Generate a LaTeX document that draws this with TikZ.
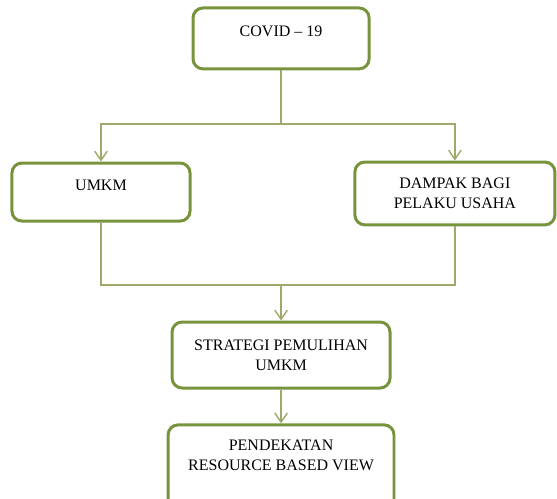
\documentclass[tikz,border=0pt]{standalone}
\usepackage{fontspec}
\setmainfont{Liberation Serif}
\usetikzlibrary{arrows.meta}
\definecolor{boxgreen}{RGB}{119,147,60}
\definecolor{linegreen}{RGB}{158,170,108}
\begin{document}
\begin{tikzpicture}[font=\fontsize{16pt}{20pt}\selectfont]
    % Node styles
    \tikzset{stage box/.style={draw=boxgreen, line width=1.05mm, rounded corners=3.5mm, align=center, inner sep=0pt},
             one line/.style={text height=11pt, text depth=14pt},
             link/.style={draw=linegreen, line width=0.5mm},
             flow/.style={link, -{Straight Barb[length=3.2mm, width=4.4mm]}}}

    % Page frame
    \useasboundingbox (0, 0) rectangle (19.58, -17.54);
    \clip (0, 0) rectangle (19.58, -17.54);

    % Top box
    \node[stage box, one line, minimum width=6.19cm, minimum height=2.14cm] (covid) at (9.88, -1.35) {COVID -- 19};

    % Second row
    \node[stage box, one line, minimum width=6.26cm, minimum height=2.04cm] (umkm) at (3.55, -6.75) {UMKM};
    \node[stage box, minimum width=7.03cm, minimum height=2.21cm] (dampak) at (15.99, -6.80) {DAMPAK BAGI\\PELAKU USAHA};

    % Lower boxes
    \node[stage box, minimum width=7.66cm, minimum height=2.32cm] (strategi) at (9.88, -12.48) {STRATEGI PEMULIHAN\\UMKM};
    \node[stage box, text depth=24pt, minimum width=7.94cm, minimum height=2.99cm] (pendekatan) at (9.88, -16.43) {PENDEKATAN\\RESOURCE BASED VIEW};

    % Branch and join points
    \coordinate (split) at (9.88, -4.36);
    \coordinate (join) at (9.88, -10.02);

    % Connectors
    \draw[flow] (covid.south) -- (split) -| (umkm.north);
    \draw[flow] (split) -| (dampak.north);
    \draw[link] (umkm.south) |- (join) -| (dampak.south);
    \draw[flow] (join) -- (strategi.north);
    \draw[flow] (strategi.south) -- (pendekatan.north);
\end{tikzpicture}
\end{document}
